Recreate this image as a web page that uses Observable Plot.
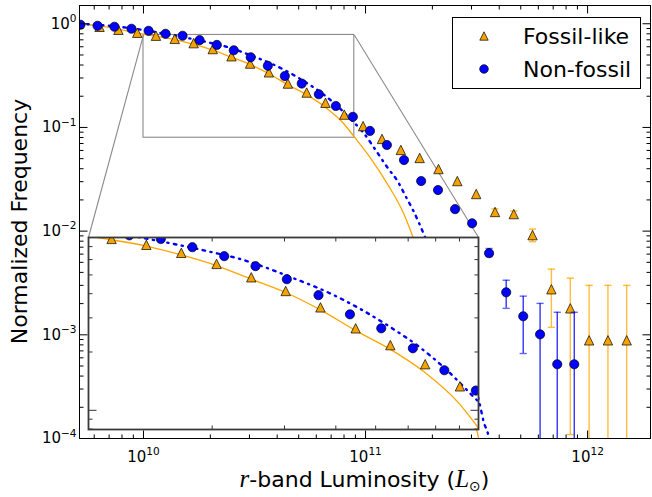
<!DOCTYPE html>
<html>
<head>
<meta charset="utf-8">
<script src="https://cdn.jsdelivr.net/npm/d3@7"></script>
<script src="https://cdn.jsdelivr.net/npm/@observablehq/plot@0.6"></script>
<style>
  body { margin: 0; background: #fff; }
  #chart { position: relative; width: 652px; height: 497px; font-family: "DejaVu Sans", sans-serif; }
  #chart svg { overflow: visible; }
</style>
</head>
<body>
<div id="chart"></div>
<script>
// ---------------- data ----------------
const seriesNames = ["Fossil-like", "Non-fossil"];

// Fossil-like groups (triangles)
const fossilL = [6.34e9, 7.71e9, 9.37e9, 1.138e10, 1.383e10, 1.682e10, 2.05e10, 2.49e10, 3.02e10, 3.67e10,
  4.47e10, 5.43e10, 6.60e10, 8.02e10, 9.75e10, 1.186e11, 1.442e11, 1.753e11, 2.13e11, 2.59e11,
  3.15e11, 3.83e11, 4.65e11, 5.65e11, 6.87e11, 8.36e11, 1.016e12, 1.235e12, 1.50e12];
const fossilF = [0.935, 0.875, 0.819, 0.767, 0.715, 0.650, 0.570, 0.486, 0.413, 0.340,
  0.265, 0.217, 0.173, 0.133, 0.103, 0.0775, 0.0607, 0.0508, 0.0397, 0.0304,
  0.0228, 0.0153, 0.0146, 0.00915, 0.00275, 0.00180, 0.000885, 0.000885, 0.000885];
const fossilErrLo = [null, null, null, null, null, null, null, null, null, null,
  null, null, null, null, null, null, null, null, null, null,
  null, 0.0143, 0.0136, 0.0079, 0.00118, 0.000109, 1e-6, 1e-6, 1e-6];
const fossilErrHi = [null, null, null, null, null, null, null, null, null, null,
  null, null, null, null, null, null, null, null, null, null,
  null, 0.0164, 0.0156, 0.01045, 0.0043, 0.00352, 0.0030, 0.0030, 0.0030];

// Non-fossil groups (circles)
const nonfossilL = [5.20e9, 6.21e9, 7.40e9, 8.83e9, 1.054e10, 1.257e10, 1.50e10, 1.79e10, 2.14e10, 2.55e10,
  3.04e10, 3.63e10, 4.33e10, 5.16e10, 6.16e10, 7.35e10, 8.77e10, 1.047e11, 1.248e11, 1.49e11,
  1.78e11, 2.12e11, 2.53e11, 3.02e11, 3.60e11, 4.30e11, 5.13e11, 6.11e11, 7.30e11, 8.71e11];
const nonfossilF = [0.978, 0.956, 0.936, 0.895, 0.855, 0.800, 0.766, 0.695, 0.625, 0.555,
  0.475, 0.393, 0.313, 0.265, 0.209, 0.161, 0.1265, 0.0925, 0.0677, 0.0485,
  0.0304, 0.0249, 0.0163, 0.0119, 0.00613, 0.00257, 0.00151, 0.00101, 0.00052, 0.00052];
const nonfossilErrLo = [null, null, null, null, null, null, null, null, null, null,
  null, null, null, null, null, null, null, null, null, null,
  null, null, null, null, 0.0057, 0.0018, 0.00066, 1e-6, 1e-6, 1e-6];
const nonfossilErrHi = [null, null, null, null, null, null, null, null, null, null,
  null, null, null, null, null, null, null, null, null, null,
  null, null, null, null, 0.0068, 0.00336, 0.00236, 0.00201, 0.00165, 0.00165];

// Fitted curves
const fossilFitL = [5.15e9, 6.4e9, 8.0e9, 1.0e10, 1.384e10, 1.682e10, 2.047e10, 2.48e10, 3.01e10, 3.66e10,
  4.47e10, 5.42e10, 6.56e10, 8.0e10, 8.83e10, 1.053e11, 1.256e11, 1.483e11, 1.644e11, 2.0e11,
  2.5e11, 2.9e11, 3.2e11, 3.3e11];
const fossilFitF = [1.0, 0.95, 0.875, 0.795, 0.704, 0.634, 0.559, 0.477, 0.407, 0.331,
  0.258, 0.207, 0.158, 0.108, 0.0828, 0.0507, 0.0284, 0.0149, 0.00855, 0.00277,
  6.5e-4, 2.3e-4, 1.1e-4, 7.9e-5];
const nonfossilFitL = [5.15e9, 7.4e9, 1.0e10, 1.339e10, 1.96e10, 2.32e10, 3.16e10, 3.82e10, 4.56e10, 5.44e10,
  6.32e10, 7.41e10, 8.44e10, 9.8e10, 1.133e11, 1.256e11, 1.393e11, 1.514e11, 1.644e11, 1.845e11,
  2.5e11, 3.30e11, 3.40e11, 3.58e11, 3.65e11];
const nonfossilFitF = [1.0, 0.945, 0.87, 0.78, 0.661, 0.607, 0.48, 0.407, 0.336, 0.268,
  0.216, 0.163, 0.124, 0.0885, 0.0567, 0.041, 0.0304, 0.0218, 0.0156, 0.00895,
  0.00144, 1.95e-4, 1.46e-4, 1.045e-4, 8e-5];

// Axes
const xDomain = [5.15e9, 1.92e12];
const yDomain = [1e-4, 1.5];
const xMajorTicks = [1e10, 1e11, 1e12];
const xTickLabels = ["10^10", "10^11", "10^12"];
const yMajorTicks = [1e-4, 1e-3, 1e-2, 1e-1, 1];
const yTickLabels = ["10^\u22124", "10^\u22123", "10^\u22122", "10^\u22121", "10^0"];
const yLabel = "Normalized Frequency";

// Inset (zoom) region and its placement (in main-axis data units)
const insetXDomain = [1e10, 8.9e10];
const insetYDomain = [0.0796, 0.78];
const insetPlace = {x1: 5.653e9, x2: 3.228e11, y1: 1.213e-4, y2: 0.00868};

// ---------------- helpers ----------------
const zip = (L, F, lo, hi) => L.map((v, i) => ({L: v, F: F[i], lo: lo ? lo[i] : null, hi: hi ? hi[i] : null}));
const fossil = zip(fossilL, fossilF, fossilErrLo, fossilErrHi);
const nonfossil = zip(nonfossilL, nonfossilF, nonfossilErrLo, nonfossilErrHi);
const fossilErr = fossil.filter(d => d.hi != null);
const nonfossilErr = nonfossil.filter(d => d.hi != null);
const fossilFit = zip(fossilFitL, fossilFitF);
const nonfossilFit = zip(nonfossilFitL, nonfossilFitF);

function logTicks(domain, mults) {
  const out = [];
  for (let k = Math.floor(Math.log10(domain[0])); k <= Math.ceil(Math.log10(domain[1])); k++)
    for (const m of mults) {
      const v = m * Math.pow(10, k);
      if (v >= domain[0] * 0.9999 && v <= domain[1] * 1.0001) out.push(v);
    }
  return out;
}
const MINOR = [2, 3, 4, 5, 6, 7, 8, 9];
const xMinor = logTicks(xDomain, MINOR);
const yMinor = logTicks(yDomain, MINOR);
const insetXMajor = logTicks(insetXDomain, [1]);
const insetXMinor = logTicks(insetXDomain, MINOR);
const insetYMajor = logTicks(insetYDomain, [1]);
const insetYMinor = logTicks(insetYDomain, MINOR);

const rOf = size => Math.sqrt(size / Math.PI);
const triSym = {draw(ctx, size) { const r = rOf(size); ctx.moveTo(0, -r); ctx.lineTo(r, r); ctx.lineTo(-r, r); ctx.closePath(); }};
const capSym = {draw(ctx, size) { const r = rOf(size); ctx.moveTo(-r, 0); ctx.lineTo(r, 0); }};
// inward tick glyphs
const tickUp = {draw(ctx, size) { ctx.moveTo(0, 0); ctx.lineTo(0, -rOf(size)); }};
const tickDown = {draw(ctx, size) { ctx.moveTo(0, 0); ctx.lineTo(0, rOf(size)); }};
const tickRight = {draw(ctx, size) { ctx.moveTo(0, 0); ctx.lineTo(rOf(size), 0); }};
const tickLeft = {draw(ctx, size) { ctx.moveTo(0, 0); ctx.lineTo(-rOf(size), 0); }};

const ORANGE = "#ffa500";
const TRI_FILL = "#f5a300";
const BLUE = "#0000ff";
const DASHDOT = "2.5,5.5,1.2,5.5";

function tickMarks(xMaj, xMin, yMaj, yMin, color) {
  const o = {fill: "none", stroke: color, strokeWidth: 1};
  const tx = (data, anchor, sym, r) => Plot.dot(data, {...o, x: d => d, frameAnchor: anchor, symbol: sym, r});
  const ty = (data, anchor, sym, r) => Plot.dot(data, {...o, y: d => d, frameAnchor: anchor, symbol: sym, r});
  return [
    tx(xMaj, "bottom", tickUp, 8), tx(xMin, "bottom", tickUp, 4),
    tx(xMaj, "top", tickDown, 8), tx(xMin, "top", tickDown, 4),
    ty(yMaj, "left", tickRight, 8), ty(yMin, "left", tickRight, 4),
    ty(yMaj, "right", tickLeft, 8), ty(yMin, "right", tickLeft, 4)
  ];
}

function dataMarks() {
  return [
    Plot.line(fossilFit, {x: "L", y: "F", stroke: ORANGE, strokeWidth: 1.3, curve: "monotone-x", clip: true}),
    Plot.line(nonfossilFit, {x: "L", y: "F", stroke: BLUE, strokeWidth: 2.4, strokeDasharray: DASHDOT, curve: "monotone-x", clip: true}),
    Plot.ruleX(fossilErr, {x: "L", y1: "lo", y2: "hi", stroke: ORANGE, strokeOpacity: 0.75, strokeWidth: 1.4, clip: true}),
    Plot.dot(fossilErr, {x: "L", y: "hi", symbol: capSym, r: 3.6, fill: "none", stroke: ORANGE, strokeOpacity: 0.75, strokeWidth: 1.4, clip: true}),
    Plot.dot(fossilErr.filter(d => d.lo > yDomain[0]), {x: "L", y: "lo", symbol: capSym, r: 3.6, fill: "none", stroke: ORANGE, strokeOpacity: 0.75, strokeWidth: 1.4, clip: true}),
    Plot.dot(fossil, {x: "L", y: "F", symbol: triSym, r: 4.7, fill: TRI_FILL, stroke: "black", strokeWidth: 0.7, clip: true}),
    Plot.ruleX(nonfossilErr, {x: "L", y1: "lo", y2: "hi", stroke: BLUE, strokeOpacity: 0.8, strokeWidth: 1.4, clip: true}),
    Plot.dot(nonfossilErr, {x: "L", y: "hi", symbol: capSym, r: 3.6, fill: "none", stroke: BLUE, strokeOpacity: 0.6, strokeWidth: 1.4, clip: true}),
    Plot.dot(nonfossilErr.filter(d => d.lo > yDomain[0]), {x: "L", y: "lo", symbol: capSym, r: 3.6, fill: "none", stroke: BLUE, strokeOpacity: 0.6, strokeWidth: 1.4, clip: true}),
    Plot.dot(nonfossil, {x: "L", y: "F", symbol: "circle", r: 4.6, fill: BLUE, stroke: "black", strokeWidth: 0.7, clip: true})
  ];
}

// ---------------- main plot ----------------
const W = 652, H = 497;
const M = {top: 5, right: 2, bottom: 59, left: 79};
const zoomBox = [{x1: insetXDomain[0], x2: insetXDomain[1], y1: insetYDomain[0], y2: insetYDomain[1]}];
const connectors = [
  {x1: insetXDomain[0], y1: insetYDomain[1], x2: insetPlace.x1, y2: insetPlace.y2},
  {x1: insetXDomain[1], y1: insetYDomain[1], x2: insetPlace.x2, y2: insetPlace.y2}
];

const main = Plot.plot({
  width: W, height: H,
  marginTop: M.top, marginRight: M.right, marginBottom: M.bottom, marginLeft: M.left,
  style: {background: "white", fontFamily: "DejaVu Sans", color: "black"},
  x: {type: "log", domain: xDomain, axis: null},
  y: {type: "log", domain: yDomain, axis: null},
  marks: [
    Plot.rect(zoomBox, {x1: "x1", x2: "x2", y1: "y1", y2: "y2", fill: "none", stroke: "#8a8a8a", strokeWidth: 1.1}),
    Plot.link(connectors, {x1: "x1", y1: "y1", x2: "x2", y2: "y2", stroke: "#8a8a8a", strokeWidth: 1.1}),
    ...dataMarks(),
    Plot.frame({stroke: "black", strokeWidth: 1}),
    ...tickMarks(xMajorTicks, xMinor, yMajorTicks, yMinor, "black"),
    Plot.text(xMajorTicks, {x: d => d, text: (d, i) => xTickLabels[i], frameAnchor: "bottom", dy: 23, lineAnchor: "bottom", textAnchor: "middle", fontSize: 15, fill: "black"}),
    Plot.text(yMajorTicks, {y: d => d, text: (d, i) => yTickLabels[i], frameAnchor: "left", dx: -3, lineAnchor: "middle", textAnchor: "end", fontSize: 15, fill: "black"})
  ]
});

function supify(svg) {
  const ns = "http://www.w3.org/2000/svg";
  svg.querySelectorAll("text").forEach(t => {
    const s = t.textContent;
    if (!s.includes("^")) return;
    const [base, exp] = s.split("^");
    t.textContent = "";
    const b = document.createElementNS(ns, "tspan"); b.textContent = base; t.appendChild(b);
    const e = document.createElementNS(ns, "tspan"); e.textContent = exp;
    e.setAttribute("font-size", "10.5"); e.setAttribute("dy", "-6.5"); t.appendChild(e);
  });
}
supify(main);

const root = document.getElementById("chart");
root.appendChild(main);

const sx = main.scale("x"), sy = main.scale("y");
const xs = d3.scaleLog().domain(sx.domain).range(sx.range);
const ys = d3.scaleLog().domain(sy.domain).range(sy.range);
const svg = d3.select(main);

// axis labels
const plotCx = (M.left + (W - M.right)) / 2;
const plotCy = (M.top + (H - M.bottom)) / 2;
const xl = svg.append("text").attr("x", plotCx).attr("y", 487).attr("text-anchor", "middle")
  .attr("font-family", "DejaVu Sans").attr("font-size", 22).attr("fill", "black");
xl.append("tspan").attr("font-family", "Liberation Serif").attr("font-style", "italic").attr("font-size", 25).text("r");
xl.append("tspan").text("-band Luminosity (");
xl.append("tspan").attr("font-family", "Liberation Serif").attr("font-style", "italic").attr("font-size", 25).text("L");
xl.append("tspan").attr("dy", 4).attr("font-size", 14).text("\u2299");
xl.append("tspan").attr("dy", -4).text(")");

svg.append("text").attr("transform", `translate(27,${plotCy}) rotate(-90)`).attr("text-anchor", "middle")
  .attr("font-family", "DejaVu Sans").attr("font-size", 22).attr("fill", "black").text(yLabel);

// legend
const lg = svg.append("g");
lg.append("rect").attr("x", 452.5).attr("y", 17.5).attr("width", 188).attr("height", 71)
  .attr("fill", "white").attr("stroke", "black").attr("stroke-width", 1);
const lx = 484;
lg.append("path").attr("d", d3.symbol(triSym, Math.PI * 4.2 * 4.2)()).attr("transform", `translate(${lx},36)`)
  .attr("fill", TRI_FILL).attr("stroke", "black").attr("stroke-width", 0.7);
lg.append("circle").attr("cx", lx).attr("cy", 69).attr("r", 4.3).attr("fill", BLUE).attr("stroke", "black").attr("stroke-width", 0.7);
[[seriesNames[0], 43.5], [seriesNames[1], 76.5]].forEach(([t, y]) => {
  lg.append("text").attr("x", 523).attr("y", y).attr("text-anchor", "start")
    .attr("font-family", "DejaVu Sans").attr("font-size", 22).attr("fill", "black").text(t);
});

// ---------------- inset ----------------
const ix0 = xs(insetPlace.x1), ix1 = xs(insetPlace.x2);
const iy0 = ys(insetPlace.y2), iy1 = ys(insetPlace.y1);
const inset = Plot.plot({
  width: Math.round(ix1 - ix0), height: Math.round(iy1 - iy0),
  margin: 0,
  style: {background: "transparent", overflow: "visible"},
  x: {type: "log", domain: insetXDomain, axis: null},
  y: {type: "log", domain: insetYDomain, axis: null},
  marks: [
    Plot.frame({fill: "white", stroke: "none"}),
    ...dataMarks(),
    ...tickMarks(insetXMajor, insetXMinor, insetYMajor, insetYMinor, "#333"),
    Plot.frame({stroke: "#3a3a3a", strokeWidth: 1.8})
  ]
});
inset.style.position = "absolute";
inset.style.left = ix0 + "px";
inset.style.top = iy0 + "px";
inset.style.overflow = "visible";
root.appendChild(inset);
</script>
</body>
</html>
